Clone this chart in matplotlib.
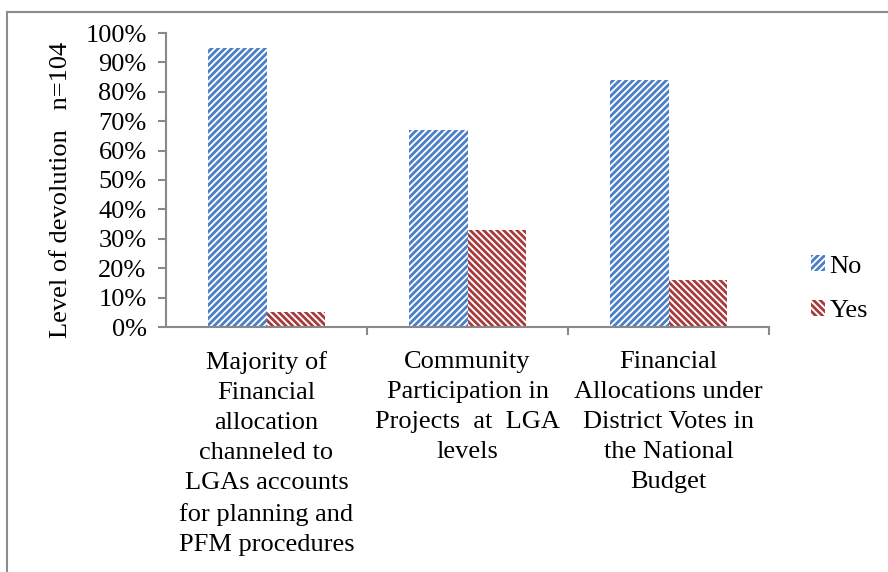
import matplotlib
matplotlib.use("Agg")
import matplotlib.pyplot as plt
from matplotlib.lines import Line2D
import numpy as np

plt.rcParams['font.family'] = ['Liberation Serif', 'DejaVu Serif']
plt.rcParams['hatch.linewidth'] = 2.0

# data
categories = ["Majority of\nFinancial\nallocation\nchanneled to\nLGAs accounts\nfor planning and\nPFM procedures",
              "Community\nParticipation in\nProjects  at  LGA\nlevels",
              "Financial\nAllocations under\nDistrict Votes in\nthe National\nBudget"]
no_vals = [95, 67, 84]
yes_vals = [5, 33, 16]
yticks = [0, 10, 20, 30, 40, 50, 60, 70, 80, 90, 100]

fig = plt.figure(figsize=(8.88, 5.72), dpi=100)
ax = fig.add_axes([166 / 888, 1 - 327 / 572, (769 - 166) / 888, (327 - 33) / 572])

x = np.arange(len(categories))
w = 0.29
ax.bar(x - w / 2, no_vals, w, color='white', edgecolor='#4a7ec6', hatch='/////',
       linewidth=0, label='No')
ax.bar(x + w / 2, yes_vals, w, color='white', edgecolor='#a8393a', hatch='\\\\\\\\\\',
       linewidth=0, label='Yes')

ax.set_xlim(-0.5, 2.5)
ax.set_ylim(0, 100)
ax.set_yticks(yticks)
ax.set_yticklabels(["%d%%" % v for v in yticks], fontsize=19)
ax.set_xticks(x)
ax.set_xticklabels(categories, fontsize=19, linespacing=1.48, va='top')
ax.set_xticks([0.5, 1.5, 2.5], minor=True)
ax.tick_params(axis='x', which='major', length=0, pad=17)
ax.tick_params(axis='x', which='minor', length=6, width=1.5, color='#898989')
ax.tick_params(axis='y', length=6, width=1.5, color='#898989', pad=8)

for s in ['top', 'right']:
    ax.spines[s].set_visible(False)
for s in ['left', 'bottom']:
    ax.spines[s].set_color('#898989')
    ax.spines[s].set_linewidth(1.5)

ax.set_ylabel("Level of devolution   n=104", fontsize=19)
ax.yaxis.set_label_coords(-0.156, 0.466)

leg = ax.legend(loc='center left', bbox_to_anchor=(1.03, 0.13), frameon=False,
                fontsize=19, handlelength=0.55, handleheight=0.55,
                handletextpad=0.15, labelspacing=0.85)

# outer frame of the chart area
fig.add_artist(Line2D([7 / 888, 7 / 888], [0, 1 - 12 / 572], color='#8c8c8c', lw=1.5))
fig.add_artist(Line2D([7 / 888, 1], [1 - 12 / 572, 1 - 12 / 572], color='#8c8c8c', lw=1.5))

fig.savefig("out.png", dpi=100)
